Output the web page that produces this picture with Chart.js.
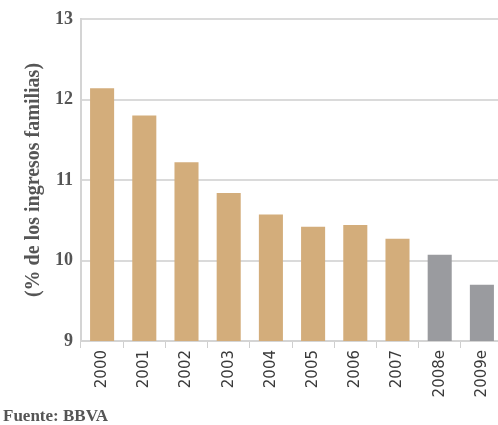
<!DOCTYPE html>
<html>
<head>
<meta charset="utf-8">
<script src="https://cdn.jsdelivr.net/npm/chart.js@4"></script>
<style>
  html, body { margin: 0; padding: 0; background: #fff; overflow: hidden; }
  #wrap { position: relative; width: 503px; height: 425px; }
  #source {
    position: absolute; left: 3px; top: 406px;
    font: bold 17px "Liberation Serif", serif; color: #555;
  }
</style>
</head>
<body>
<div id="wrap">
  <canvas id="chart" width="503" height="425"></canvas>
  <div id="source">Fuente: BBVA</div>
</div>
<script>
// Years on the x axis ("e" = estimate)
const YEARS = ["2000", "2001", "2002", "2003", "2004", "2005", "2006", "2007", "2008e", "2009e"];
// Share of household income, %
const VALUES = [12.14, 11.8, 11.22, 10.84, 10.57, 10.42, 10.44, 10.27, 10.07, 9.7];
const IS_ESTIMATE = [false, false, false, false, false, false, false, false, true, true];

const TAN = '#d3ad7b';
const GREY = '#9a9b9f';

const ctx = document.getElementById("chart").getContext("2d");

new Chart(ctx, {
  type: "bar",
  data: {
    labels: YEARS,
    datasets: [{
      data: VALUES,
      backgroundColor: IS_ESTIMATE.map(e => e ? GREY : TAN),
      categoryPercentage: 1,
      barPercentage: 0.57
    }]
  },
  options: {
    animation: false,
    responsive: false,
    layout: { padding: { top: 19, left: 0, right: 0, bottom: 0 } },
    plugins: {
      legend: { display: false },
      tooltip: { enabled: false }
    },
    scales: {
      x: {
        grid: {
          offset: true,
          drawOnChartArea: false,
          drawTicks: true,
          tickLength: 7,
          color: '#cfcfcf',
          lineWidth: 1
        },
        border: { color: '#d4d4d4', width: 2 },
        ticks: {
          minRotation: 90,
          maxRotation: 90,
          padding: 2,
          color: '#3a3a3a',
          font: { family: 'DejaVu Sans', size: 15 }
        },
        afterFit: function(scale) { scale.height = 84; }
      },
      y: {
        min: 9,
        max: 13,
        grid: {
          color: '#dadada',
          lineWidth: 2,
          drawTicks: false
        },
        border: { color: '#d4d4d4', width: 2 },
        ticks: {
          stepSize: 1,
          padding: 8,
          color: '#555',
          font: { family: 'Liberation Serif', size: 18, weight: 'bold' }
        },
        title: {
          display: true,
          text: '(% de los ingresos familias)',
          color: '#555',
          padding: { top: 22, bottom: 4 },
          font: { family: 'Liberation Serif', size: 20, weight: 'bold' }
        },
        afterFit: function(scale) { scale.width = 81; }
      }
    }
  }
});
</script>
</body>
</html>
